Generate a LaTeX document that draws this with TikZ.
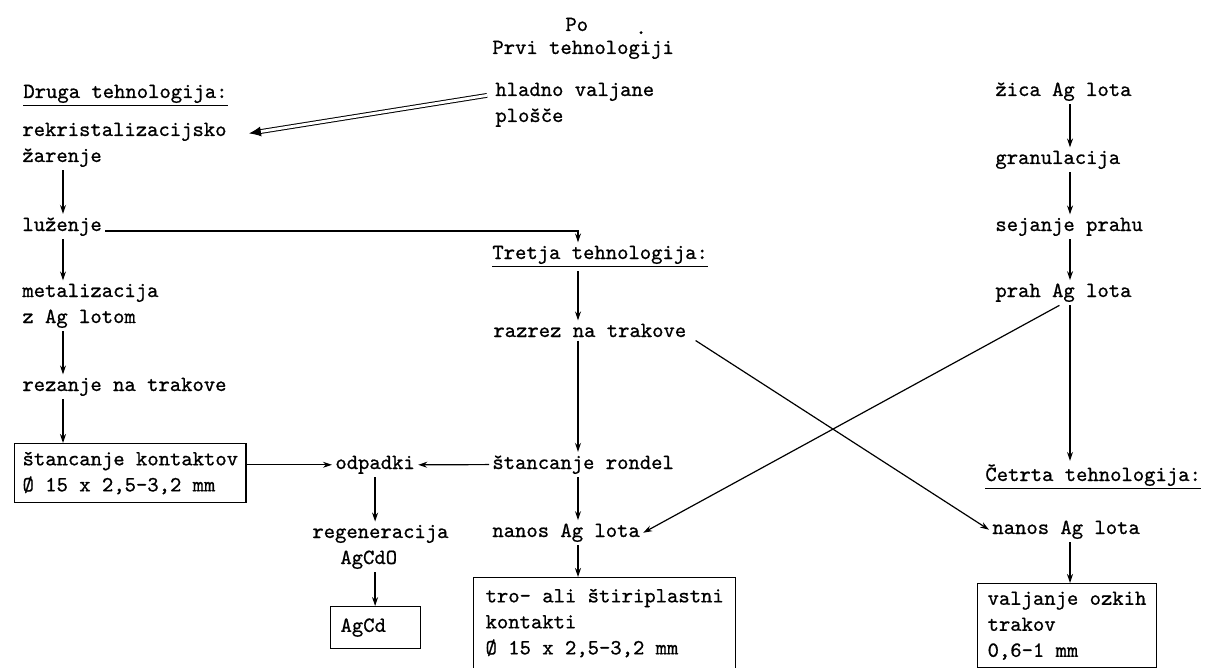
\documentclass[tikz,border=0pt]{standalone}
\usepackage{fontspec}
\setmonofont{lmmono10-regular.otf}[FakeBold=0.8]
\usetikzlibrary{arrows.meta}
\usetikzlibrary{positioning}

\begin{document}
\begin{tikzpicture}[x=0.5pt, y=-0.5pt, >={Stealth[length=4.5pt,width=3pt]},
  font=\ttfamily\fontsize{10.8}{13}\selectfont,
  txt/.style={inner sep=1.5pt, anchor=base west, align=left},
  boxed/.style={draw, line width=0.6pt, inner xsep=4pt, inner ysep=4pt, anchor=north west, align=left},
  arr/.style={->, line width=0.6pt},
  dbl/.style={double, double distance=1.4pt, line width=0.5pt, -{Latex[length=6pt,width=5pt]}}]

\useasboundingbox (0,0) rectangle (1208,668);

% Header
\node[txt] (po) at (562,31) {Po};
\node[txt] (dot) at (632,34) {.};
\node[txt] (prvi) at (489,54) {Prvi tehnologiji};

% Druga tehnologija (multi-line nodes sit on their last line)
\node[txt] (druga) at (20,98) {\underline{Druga tehnologija:}};
\node[txt] (rekr) at (19,162) {rekristalizacijsko\\žarenje};
\node[txt] (luzenje) at (19,231) {luženje};
\node[txt] (metal) at (19,323) {metalizacija\\z Ag lotom};
\node[txt] (rezanje) at (19,391) {rezanje na trakove};
\node[boxed] (box1) at (14,443) {štancanje kontaktov\\Ø 15 x 2,5-3,2 mm};

% Odpadki
\node[txt] (odpadki) at (332,469) {odpadki};
\node[txt] (regen) at (309,564) {regeneracija\\\hspace*{14pt}AgCdO};
\node[boxed, text width=35pt, inner xsep=5pt, minimum height=21pt] (agcd) at (330,606) {AgCd};

% Prva in tretja tehnologija
\node[txt] (hladno) at (492,122) {hladno valjane\\plošče};
\node[txt] (tretja) at (489,259) {\underline{Tretja tehnologija:}};
\node[txt] (razrez) at (490,337) {razrez na trakove};
\node[txt] (rondel) at (489,469) {štancanje rondel};
\node[txt] (nanosa) at (489,537) {nanos Ag lota};
\node[boxed, inner xsep=6pt, inner ysep=5.5pt] (box3) at (473,577) {tro- ali štiriplastni\\kontakti\\Ø 15 x 2,5-3,2 mm};

% Cetrta tehnologija
\node[txt] (zica) at (992,96) {žica Ag lota};
\node[txt] (gran) at (992,164) {granulacija};
\node[txt] (sejanje) at (992,231) {sejanje prahu};
\node[txt] (prah) at (992,297) {prah Ag lota};
\node[txt] (cetrta) at (982,481) {\underline{Četrta tehnologija:}};
\node[txt] (nanosb) at (989,534) {nanos Ag lota};
\node[boxed, inner xsep=5pt] (box4) at (977,583) {valjanje ozkih\\trakov\\0,6-1 mm};

\coordinate (lcol) at (63,0);
\coordinate (mcol) at (578,0);
\coordinate (rcol) at (1070,0);

% Connectors
\draw[dbl] ([xshift=-2.5pt,yshift=-8pt]hladno.north west) -- ([xshift=9.5pt,yshift=-7pt]rekr.north east);
\draw[arr] (rekr.south -| lcol) -- (luzenje.north -| lcol);
\draw[arr] (luzenje.south -| lcol) -- (metal.north -| lcol);
\draw[arr] (metal.south -| lcol) -- (rezanje.north -| lcol);
\draw[arr] (rezanje.south -| lcol) -- (box1.north -| lcol);
\draw[arr] (box1.east |- odpadki.west) -- (odpadki.west);
\draw[arr] (rondel.west) -- (odpadki.east);
\draw[arr] (odpadki.south) -- (regen.north -| odpadki.south);
\draw[arr] (regen.south -| odpadki.south) -- (agcd.north -| odpadki.south);

\draw[arr] (luzenje.base east) -| (tretja.north -| mcol);
\draw[arr] (tretja.south -| mcol) -- (razrez.north -| mcol);
\draw[arr] (razrez.south -| mcol) -- (rondel.north -| mcol);
\draw[arr] (rondel.south -| mcol) -- (nanosa.north -| mcol);
\draw[arr] (nanosa.south -| mcol) -- (box3.north -| mcol);

\draw[arr] (zica.south -| rcol) -- (gran.north -| rcol);
\draw[arr] (gran.south -| rcol) -- (sejanje.north -| rcol);
\draw[arr] (sejanje.south -| rcol) -- (prah.north -| rcol);
\draw[arr] (prah.south -| rcol) -- (cetrta.north -| rcol);
\draw[arr] (nanosb.south -| rcol) -- (box4.north -| rcol);

\draw[arr] ([xshift=3pt]razrez.south east) -- (nanosb.west);
\draw[arr] ([xshift=-2pt]prah.south) -- (nanosa.east);

\end{tikzpicture}
\end{document}
